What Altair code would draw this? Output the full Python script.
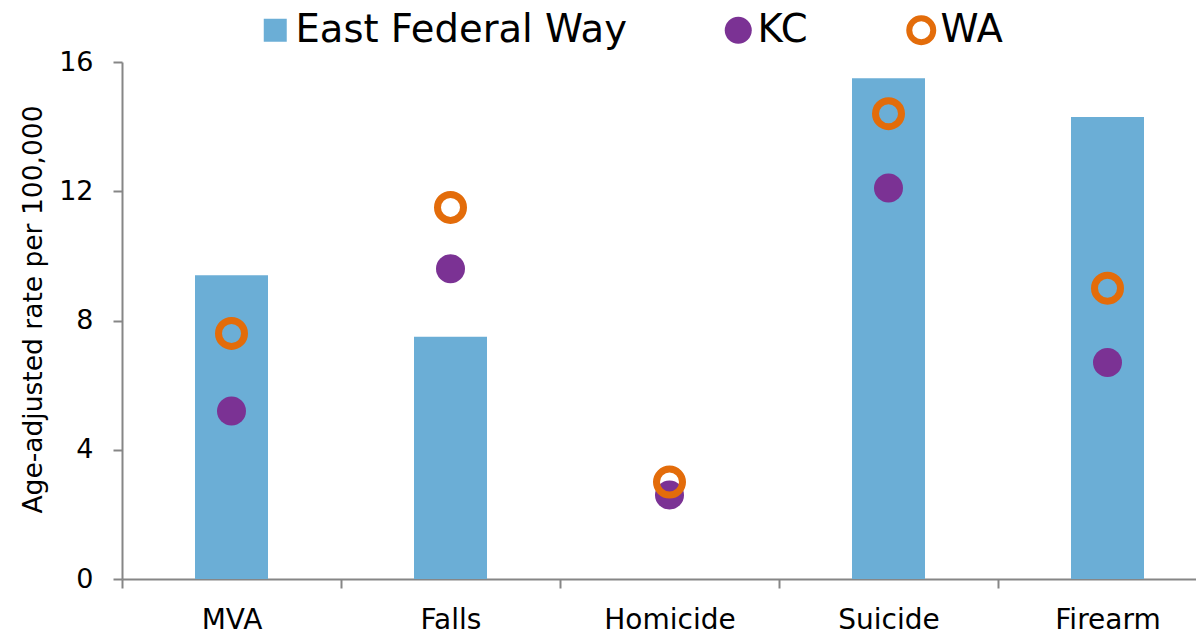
import altair as alt
import pandas as pd

categories = ["MVA", "Falls", "Homicide", "Suicide", "Firearm"]
efw = [9.4, 7.5, None, 15.5, 14.3]
kc = [5.2, 9.6, 2.6, 12.1, 6.7]
wa = [7.6, 11.5, 3.0, 14.4, 9.0]
series_names = ["East Federal Way", "KC", "WA"]
colors = ["#6BAED6", "#7B3294", "#E36C0A"]

df_bar = pd.DataFrame({"cause": categories, "value": efw, "series": series_names[0]})
df_kc = pd.DataFrame({"cause": categories, "value": kc, "series": series_names[1]})
df_wa = pd.DataFrame({"cause": categories, "value": wa, "series": series_names[2]})

FONT = "DejaVu Sans"

x_enc = alt.X(
    "cause:N",
    sort=categories,
    scale=alt.Scale(range=[0, 1095], paddingInner=0, paddingOuter=0),
    axis=alt.Axis(
        title=None, labelAngle=0, tickBand="extent", tickSize=9,
        labelPadding=18, labelFontSize=28, labelFont=FONT, labelColor="#000000",
        domainColor="#868686", tickColor="#868686", domainWidth=2, tickWidth=2,
    ),
)
y_enc = alt.Y(
    "value:Q",
    scale=alt.Scale(domain=[0, 16], nice=False),
    axis=alt.Axis(
        title="Age-adjusted rate per 100,000", values=[0, 4, 8, 12, 16],
        grid=False, tickSize=9, labelPadding=20, labelFontSize=27, labelFont=FONT,
        labelColor="#000000", domainColor="#868686", tickColor="#868686",
        domainWidth=2, tickWidth=2,
        titleFont=FONT, titleFontSize=26.5, titleFontWeight="normal", titleColor="#000000",
        titleX=-89, titleY=247, titleBaseline="middle", titleAngle=270,
    ),
)

LEG_Y = -51

bars = alt.Chart(df_bar).mark_bar(size=73).encode(
    x=x_enc, y=y_enc,
    color=alt.Color("series:N", scale=alt.Scale(domain=[series_names[0]], range=[colors[0]]),
                    legend=alt.Legend(
                        title=None, orient="none", legendX=134, legendY=LEG_Y, padding=0,
                        labelFont=FONT, labelFontSize=38.5, labelColor="#000000", labelOffset=1,
                        labelLimit=0, symbolType="square", symbolSize=529,
                    )),
)

kc_pts = alt.Chart(df_kc).mark_point(filled=True, size=841, opacity=1, shape="circle").encode(
    x=x_enc, y=y_enc,
    color=alt.Color("series:N", scale=alt.Scale(domain=[series_names[1]], range=[colors[1]]),
                    legend=alt.Legend(
                        title=None, orient="none", legendX=597, legendY=LEG_Y, padding=0,
                        labelFont=FONT, labelFontSize=38.5, labelColor="#000000", labelOffset=0,
                        labelLimit=0, symbolType="circle", symbolSize=729, symbolOpacity=1,
                    )),
)

wa_pts = alt.Chart(df_wa).mark_point(filled=False, size=676, strokeWidth=7, opacity=1, shape="circle").encode(
    x=x_enc, y=y_enc,
    color=alt.Color("series:N", scale=alt.Scale(domain=[series_names[2]], range=[colors[2]]),
                    legend=alt.Legend(
                        title=None, orient="none", legendX=780, legendY=LEG_Y, padding=0,
                        labelFont=FONT, labelFontSize=38.5, labelColor="#000000", labelOffset=0,
                        labelLimit=0, symbolType="circle", symbolSize=576, symbolStrokeWidth=6,
                        symbolOpacity=1, symbolFillColor="transparent",
                    )),
)

chart = alt.layer(bars, kc_pts, wa_pts).resolve_scale(color="independent").properties(
    width=1074, height=517, background="white",
    autosize=alt.AutoSizeParams(type="none"),
    padding={"left": 114, "top": 54, "right": 0, "bottom": 55},
).configure_view(strokeWidth=0, stroke="transparent")

chart.save("out.html", embed_options={"renderer": "svg", "actions": False})
